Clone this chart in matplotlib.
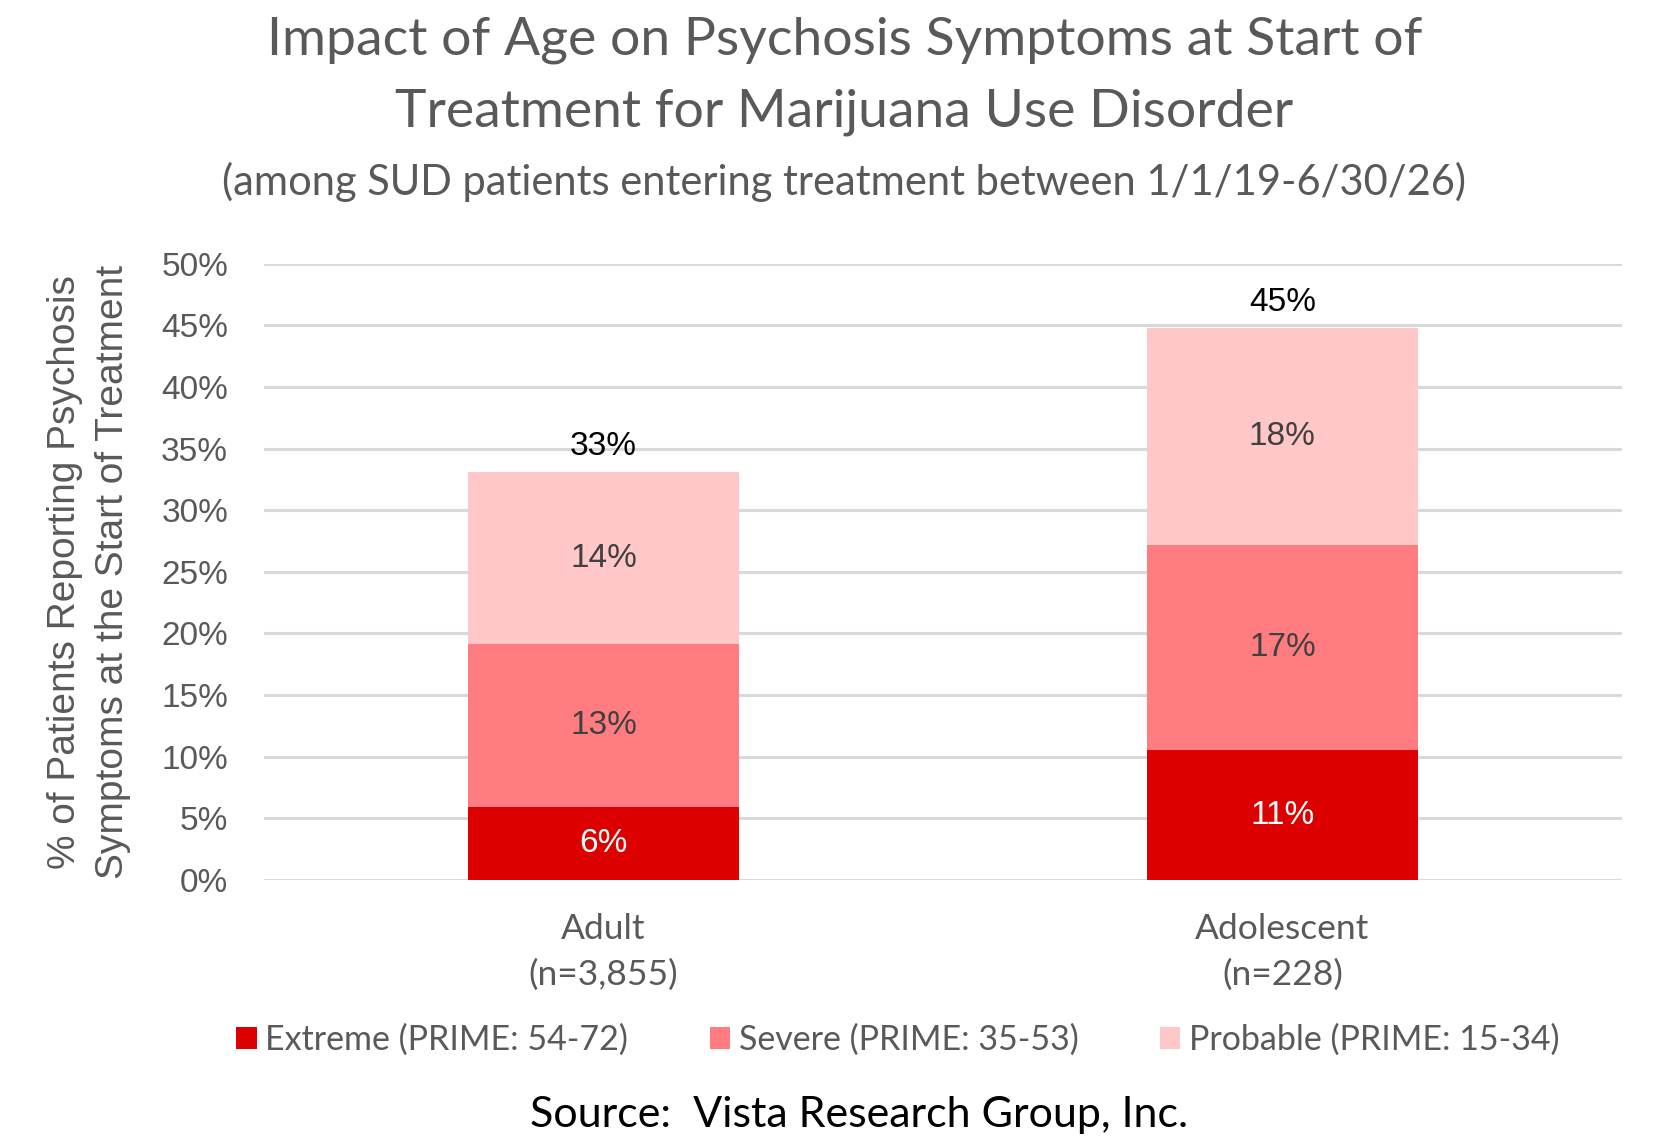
import numpy as np
import matplotlib
matplotlib.use("Agg")
import matplotlib.pyplot as plt
from matplotlib.ticker import PercentFormatter

# ================================================================
# DATA
# ================================================================
groups = ["Adult\n(n=3,855)", "Adolescent\n(n=228)"]
extreme = [5.9, 10.5]
severe = [13.2, 16.7]
probable = [14.0, 17.6]

extreme_lbl = ["6%", "11%"]
severe_lbl = ["13%", "17%"]
probable_lbl = ["14%", "18%"]
total_lbl = ["33%", "45%"]

series_names = ["Extreme (PRIME: 54-72)", "Severe (PRIME: 35-53)", "Probable (PRIME: 15-34)"]
colors = ["#DC0000", "#FF7C80", "#FFC7C7"]

title_font = "Lato"
num_font = "Liberation Sans"
grey = "#595959"

# ================================================================
# PLOT
# ================================================================
fig = plt.figure(figsize=(16.72, 11.47), dpi=100)
ax = fig.add_axes([0.158, 0.233, 0.812, 0.537])

x = np.arange(len(groups))
w = 0.4
ext = np.array(extreme)
sev = np.array(severe)
prob = np.array(probable)

b1 = ax.bar(x, ext, w, color=colors[0], label=series_names[0], zorder=3)
b2 = ax.bar(x, sev, w, bottom=ext, color=colors[1], label=series_names[1], zorder=3)
b3 = ax.bar(x, prob, w, bottom=ext + sev, color=colors[2], label=series_names[2], zorder=3)

# data labels
for i in range(len(groups)):
    ax.text(x[i], ext[i] / 2, extreme_lbl[i], ha="center", va="center",
            color="white", fontsize=24, family=num_font, zorder=4)
    ax.text(x[i], ext[i] + sev[i] / 2, severe_lbl[i], ha="center", va="center",
            color="#404040", fontsize=24, family=num_font, zorder=4)
    ax.text(x[i], ext[i] + sev[i] + prob[i] / 2, probable_lbl[i], ha="center", va="center",
            color="#404040", fontsize=24, family=num_font, zorder=4)
    top = ext[i] + sev[i] + prob[i]
    ax.text(x[i], top + 0.8, total_lbl[i], ha="center", va="bottom",
            color="black", fontsize=24, family=num_font, zorder=4)

ax.set_xlim(-0.5, 1.5)
ax.set_ylim(0, 50)
ax.set_yticks(np.arange(0, 51, 5))
ax.yaxis.set_major_formatter(PercentFormatter(decimals=0))
ax.grid(axis="y", color="#D9D9D9", linewidth=2.2, zorder=0)
for s in ax.spines.values():
    s.set_visible(False)
ax.tick_params(axis="both", length=0)
ax.tick_params(axis="y", pad=26, labelsize=24, labelcolor=grey)
for t in ax.get_yticklabels():
    t.set_family(num_font)

ax.set_xticks(x)
ax.set_xticklabels(groups, fontsize=25.5, color=grey, family=title_font, linespacing=1.5)
ax.tick_params(axis="x", pad=24)

ax.set_ylabel("% of Patients Reporting Psychosis\nSymptoms at the Start of Treatment",
              fontsize=28, color=grey, family=num_font, linespacing=1.4, labelpad=22)

fig.text(0.505, 0.9646, "Impact of Age on Psychosis Symptoms at Start of",
         ha="center", va="center", fontsize=38.5, color=grey, family=title_font)
fig.text(0.505, 0.902, "Treatment for Marijuana Use Disorder",
         ha="center", va="center", fontsize=38.5, color=grey, family=title_font)
fig.text(0.505, 0.8416, "(among SUD patients entering treatment between 1/1/19-6/30/26)",
         ha="center", va="center", fontsize=30, color=grey, family=title_font)

leg = fig.legend(handles=[b1, b2, b3], loc="center", bbox_to_anchor=(0.537, 0.0932),
                 ncol=3, frameon=False, fontsize=24.5, handlelength=0.6, handleheight=0.6,
                 handletextpad=0.25, columnspacing=2.4)
for t in leg.get_texts():
    t.set_color(grey)
    t.set_family(title_font)

fig.text(0.514, 0.028, "Source:  Vista Research Group, Inc.",
         ha="center", va="center", fontsize=31, color="black", family=title_font)

fig.savefig("out.png", dpi=100)
